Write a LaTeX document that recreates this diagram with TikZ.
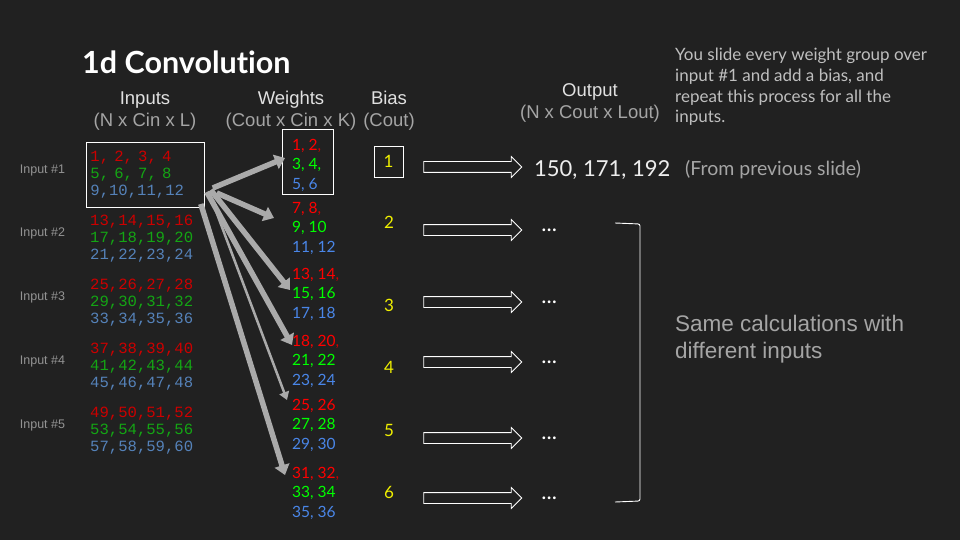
\documentclass[tikz,border=0pt]{standalone}
\usepackage{fontspec}
\setmainfont{Liberation Sans}
\newfontfamily\latofont{Lato}[Ligatures=NoCommon]
\newfontfamily\monofont{Liberation Mono}
\usetikzlibrary{positioning, arrows.meta, shapes.arrows}

\definecolor{bgdark}{RGB}{33,33,33}
\definecolor{txtlight}{RGB}{225,225,225}
\definecolor{txtgray}{RGB}{165,165,165}
\definecolor{inred}{RGB}{204,0,0}
\definecolor{ingreen}{RGB}{20,165,20}
\definecolor{inblue}{RGB}{85,130,185}
\definecolor{wred}{RGB}{255,0,0}
\definecolor{wgreen}{RGB}{0,255,0}
\definecolor{wblue}{RGB}{74,134,232}
\definecolor{biasyellow}{RGB}{240,240,0}
\definecolor{arrowgray}{RGB}{170,170,170}

% rows of one input / one weight group
\newcommand{\inmat}[3]{{\color{inred}#1}\\{\color{ingreen}#2}\\{\color{inblue}#3}}
\newcommand{\wgroup}[3]{#1\\{\color{wgreen}#2}\\{\color{wblue}#3}}

\tikzset{
  header/.style={align=center, text=txtlight, inner sep=0,
    font=\fontsize{18.5}{22}\selectfont},
  inlabel/.style={text=txtgray!120, inner sep=0, font=\fontsize{12.5}{15}\selectfont},
  inputmat/.style={anchor=west, align=left, text width=110pt, inner sep=4pt,
    minimum height=65pt, font=\monofont\fontsize{15.6}{17}\selectfont},
  weightgrp/.style={anchor=west, align=left, inner sep=0,
    font=\latofont\fontsize{15.5}{19.5}\selectfont},
  biasval/.style={text=biasyellow, inner sep=0, font=\latofont\fontsize{17}{18}\selectfont},
  outarrow/.style={single arrow, draw=white, line width=0.8pt, inner sep=0,
    minimum height=98pt, single arrow head extend=5pt},
  feed/.style={draw=arrowgray, line width=5.5pt,
    -{Triangle[length=10pt,width=15pt]}},
  thinfeed/.style={draw=arrowgray, line width=2.5pt,
    -{Triangle[length=8pt,width=10pt]}},
  dots/.style={anchor=west, text=white, inner sep=0, font=\latofont\fontsize{22}{24}\selectfont},
}

\begin{document}
\begin{tikzpicture}[x=1pt, y=-1pt]
  \useasboundingbox (0,0) rectangle (960,540);
  \fill[bgdark] (0,0) rectangle (960,540);

  % title and column headers
  \node[anchor=west, text=white, inner sep=0, font=\latofont\bfseries\fontsize{30.5}{33}\selectfont]
    (title) at (82,62) {1d Convolution};
  \node[header] (hin) at (145,111) {Inputs\\{\color{txtgray}(N x Cin x L)}};
  \node[header] (hw) at (291,111) {Weights\\{\color{txtgray}(Cout x Cin x K)}};
  \node[header] (hb) at (389,111) {Bias\\{\color{txtgray}(Cout)}};
  \node[header] (hout) at (590,103) {Output\\{\color{txtgray}(N x Cout x Lout)}};

  % explanation
  \node[anchor=west, align=left, text=txtlight!85!black, inner sep=0,
    font=\latofont\fontsize{17}{20.7}\selectfont] (note) at (675,87)
    {You slide every weight group over\\input \#1 and add a bias, and\\repeat this process for all the\\inputs.};

  % inputs
  \foreach \i/\y in {1/170,2/233,3/297,4/361,5/425}
    \node[inlabel] (lab\i) at (42.5,\y) {Input \#\i};
  \node[inputmat, draw=white, line width=0.8pt] (in1) at (86,174.5) {\inmat{1, 2, 3, 4}{5, 6, 7, 8}{9,10,11,12}};
  \node[inputmat] (in2) at (86,239) {\inmat{13,14,15,16}{17,18,19,20}{21,22,23,24}};
  \node[inputmat] (in3) at (86,303) {\inmat{25,26,27,28}{29,30,31,32}{33,34,35,36}};
  \node[inputmat] (in4) at (86,367) {\inmat{37,38,39,40}{41,42,43,44}{45,46,47,48}};
  \node[inputmat] (in5) at (86,431) {\inmat{49,50,51,52}{53,54,55,56}{57,58,59,60}};

  % weight groups
  \node[weightgrp] (w1) at (292,165) {\wgroup{{\color{wred}1, 2}{\color{inred},}}{3, 4,}{5, 6}};
  \node[weightgrp] (w2) at (292,228) {\wgroup{{\color{wred}7, 8}{\color{inred},}}{9, 10}{11, 12}};
  \node[weightgrp] (w3) at (292,294) {\wgroup{{\color{wred}13, 14}{\color{inred},}}{15, 16}{17, 18}};
  \node[weightgrp] (w4) at (292,361) {\wgroup{{\color{wred}18, 20}{\color{inred},}}{21, 22}{23, 24}};
  \node[weightgrp] (w5) at (292,425) {\wgroup{{\color{wred}25, 26}}{27, 28}{29, 30}};
  \node[weightgrp] (w6) at (292,493) {\wgroup{{\color{wred}31, 32}{\color{inred},}}{33, 34}{35, 36}};
  \node[draw=white, line width=0.8pt, minimum width=51pt, minimum height=65pt, inner sep=0]
    (wbox) at (307.5,161.5) {};

  % input #1 feeds every weight group
  \draw[feed] ([shift={(8,13.5)}]in1.east) -- ([shift={(-7,-7)}]w1.west);
  \draw[feed] ([shift={(12,18.5)}]in1.east) -- ([shift={(-18,-10)}]w2.west);
  \draw[feed] ([shift={(6,15.5)}]in1.east) -- ([shift={(-2,-4)}]w3.west);
  \draw[feed] ([shift={(2,17.5)}]in1.east) -- ([shift={(0,-16)}]w4.west);
  \draw[thinfeed] ([shift={(4,17.5)}]in1.east) -- ([shift={(-5,-25)}]w5.west);
  \draw[feed] ([shift={(-4,29.5)}]in1.east) -- ([shift={(-7,-18)}]w6.west);

  % biases
  \node[biasval, draw=white, line width=0.8pt, minimum width=29pt, minimum height=31pt] (b1) at (388.5,161.5) {1};
  \foreach \i/\y in {2/222,3/305,4/367,5/430,6/492}
    \node[biasval] (b\i) at (389,\y) {\i};

  % outputs
  \foreach \i/\y in {1/167,2/230,3/302,4/362,5/438,6/498}
    \node[outarrow] (oa\i) at (470,\y) {\rule{0pt}{10pt}};
  \node[anchor=west, text=white!93!black, inner sep=0, font=\latofont\fontsize{22}{24}\selectfont]
    (out1) at (534,170) {150, 171, 192};
  \node[anchor=west, text=txtgray, inner sep=0, font=\latofont\fontsize{19.5}{22}\selectfont]
    (prev) at (685,170) {(From previous slide)};
  \foreach \i in {2,...,6}
    \node[dots] (dot\i) at ([xshift=19pt]oa\i.east) {...};

  % bracket for the other inputs
  \draw[white, line width=0.9pt, rounded corners=2pt] (615,223) -- (640,224) -- (640,501) -- (615,502);
  \node[anchor=west, align=left, text=txtgray, inner sep=0, font=\fontsize{22.5}{27}\selectfont]
    (same) at (675,339.5) {Same calculations with\\different inputs};
\end{tikzpicture}
\end{document}
